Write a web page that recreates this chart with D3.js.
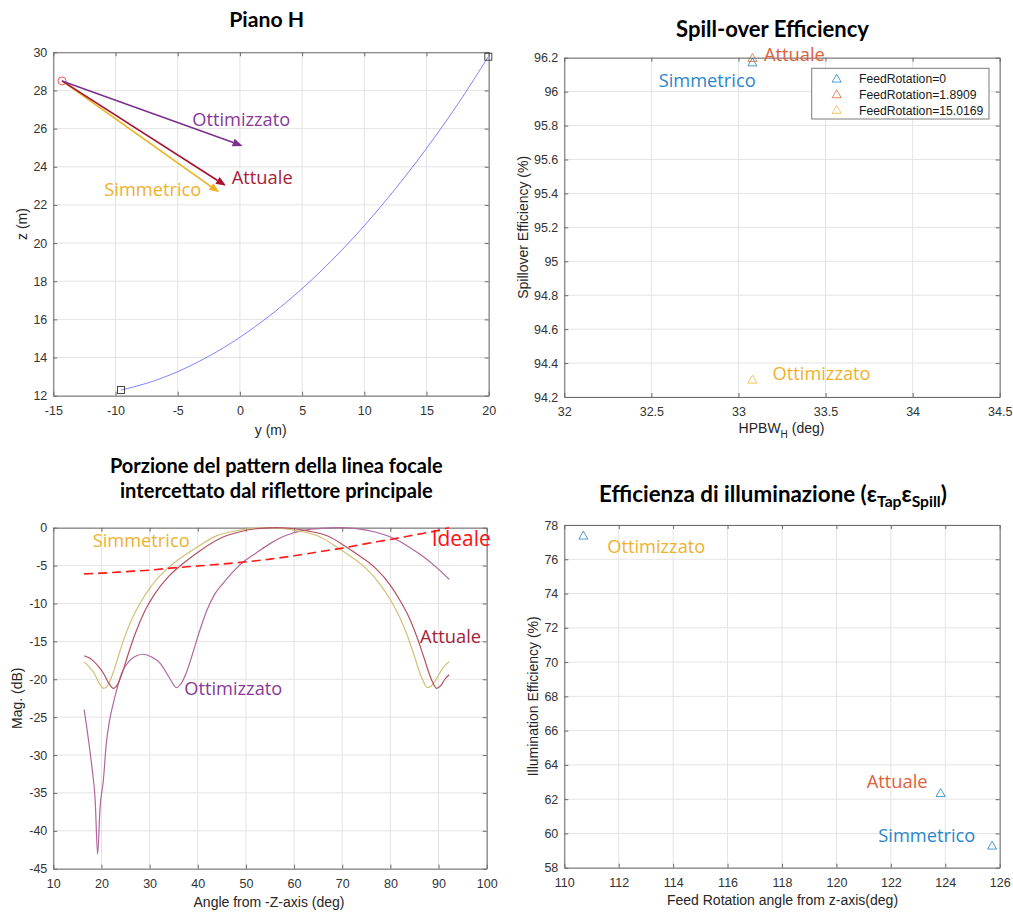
<!DOCTYPE html>
<html>
<head>
<meta charset="utf-8">
<script src="https://cdn.jsdelivr.net/npm/d3@7"></script>
<style>
  body { margin: 0; background: #fff; }
  svg { display: block; }
</style>
</head>
<body>
<svg id="fig" width="1013" height="914"></svg>
<script>
// ---------- Piano H: reflector profile, feed position and pointing arrows ----------
const reflectorY = [-9.56, -7.5, -5, -2.5, 0, 2.5, 5, 7.5, 10, 12.5, 15, 17.5, 19.97];
const reflectorZ = [12.30, 12.65, 13.26, 14.07, 15.06, 16.25, 17.61, 19.17, 20.91, 22.85, 24.96, 27.27, 29.77];
const rimY = [-9.56, 19.97];
const rimZ = [12.30, 29.77];
const focusY = -14.3;
const focusZ = 28.5;
const arrowNames = ["Ottimizzato", "Attuale", "Simmetrico"];
const arrowTipY = [0.22, -1.12, -1.66];
const arrowTipZ = [25.09, 23.0, 22.66];

// ---------- Spill-over efficiency vs HPBW ----------
const caseNames = ["Simmetrico", "Attuale", "Ottimizzato"];
const feedRotation = [0, 1.8909, 15.0169];
const hpbwH = [33.08, 33.08, 33.08];
const spillEff = [96.17, 96.196, 94.30];

// ---------- Feed pattern portion intercepted by the main reflector ----------
const angSimmetrico = [16.4, 17.5, 18.5, 19.5, 20.5, 21.5, 22.5, 23.5, 24.5, 26, 28, 30, 33, 36, 40, 44, 48, 52, 54.3,
  57, 61, 65, 69, 72, 75, 78, 80, 82, 83.5, 85, 86.5, 87.7, 88.5, 89.5, 90.5, 91.3, 92.2];
const magSimmetrico = [-17.7, -18.4, -19.2, -20.5, -21.2, -20.6, -19.0, -17.0, -15.0, -12.5, -10.0, -8.0, -5.8, -4.2, -2.5, -1.05, -0.4, -0.05, 0,
  -0.07, -0.45, -1.1, -2.6, -3.9, -5.4, -7.6, -9.5, -11.9, -14.2, -17.0, -19.8, -21.1, -20.9, -20.0, -18.9, -18.2, -17.7];

const angAttuale = [16.4, 17.5, 18.5, 19.5, 20.5, 21.5, 22.5, 23.5, 24.5, 25.5, 27, 29, 31, 34, 37, 41, 45, 49, 53, 56.2,
  59, 63, 67, 71, 74, 77, 80, 82, 84, 85.5, 87, 88.5, 89.6, 90.5, 91.3, 92.2];
const magAttuale = [-16.9, -17.2, -17.7, -18.4, -19.3, -20.5, -21.2, -20.5, -18.8, -16.8, -14.0, -11.0, -8.8, -6.4, -4.7, -2.8, -1.3, -0.5, -0.08, 0,
  -0.07, -0.45, -1.1, -2.6, -3.9, -5.4, -7.6, -9.6, -12.0, -14.4, -17.2, -20.0, -21.2, -20.8, -20.0, -19.4];

const angOttimizzato = [16.4, 17.2, 18.0, 18.7, 19.2, 19.7, 20.4, 21.0, 21.7, 22.8, 24.2, 25.9, 27.3, 28.7, 30.5, 32.2, 34.2, 35.6,
  36.6, 37.7, 38.8, 39.8, 41.9, 43.5, 45.3, 47.5, 49.5, 52, 55, 58, 61.9, 65.5, 69.5, 73, 77, 81.3, 84, 86.8, 89.5, 92.2];
const magOttimizzato = [-24.0, -27.5, -31.5, -36.0, -43.1, -37.0, -33.3, -28.5, -25.4, -22.3, -19.2, -17.5, -16.9, -16.7, -17.1, -17.9, -19.9, -21.1,
  -20.5, -19.0, -16.9, -14.8, -10.9, -8.8, -7.3, -5.7, -4.5, -3.4, -2.1, -1.1, -0.35, -0.08, 0, -0.12, -0.6, -1.6, -2.6, -3.8, -5.2, -6.8];

const angIdeale = [16.4, 20, 25, 30, 35, 40, 45, 50, 55, 60, 65, 70, 75, 80, 85, 90, 92.2];
const magIdeale = [-6.1, -6.0, -5.8, -5.6, -5.3, -5.05, -4.8, -4.5, -4.15, -3.7, -3.2, -2.7, -2.1, -1.55, -0.95, -0.35, 0];

// ---------- Illumination efficiency vs feed rotation angle ----------
const feedAngle = [125.72, 123.83, 110.70];
const illumEff = [59.27, 62.34, 77.36];

// ---------- tick values ----------
const ticksPianoY = [-15, -10, -5, 0, 5, 10, 15, 20];
const ticksPianoZ = [12, 14, 16, 18, 20, 22, 24, 26, 28, 30];
const ticksHpbw = [32, 32.5, 33, 33.5, 34, 34.5];
const ticksSpill = [94.2, 94.4, 94.6, 94.8, 95, 95.2, 95.4, 95.6, 95.8, 96, 96.2];
const ticksAngle = [10, 20, 30, 40, 50, 60, 70, 80, 90, 100];
const ticksMag = [0, -5, -10, -15, -20, -25, -30, -35, -40, -45];
const ticksFeed = [110, 112, 114, 116, 118, 120, 122, 124, 126];
const ticksIllum = [58, 60, 62, 64, 66, 68, 70, 72, 74, 76, 78];

// ---------- colours ----------
const C_BLUE = "#0072BD", C_ORANGE = "#D95319", C_YELLOW = "#EDB120",
      C_PURPLE = "#7E2F8E", C_DARKRED = "#A2142F";

const FONT_AX = '"Liberation Sans", Arial, Helvetica, sans-serif';
const FONT_ANN = '"Open Sans", "Noto Sans", sans-serif';
const FONT_TITLE = 'Lato, "Open Sans", sans-serif';

const svg = d3.select("#fig");
const num = d => String(+(+d).toFixed(2));

// Draw a boxed axes with grid, inward ticks on all four sides and labels on left/bottom.
function makeAxes(box, xDomain, yDomain, xTicks, yTicks) {
  const x = d3.scaleLinear().domain(xDomain).range([box.x0, box.x1]);
  const y = d3.scaleLinear().domain(yDomain).range([box.y1, box.y0]);
  const g = svg.append("g");

  const grid = g.append("g").attr("stroke", "#e4e4e4").attr("stroke-width", 1);
  grid.selectAll(".gx").data(xTicks).join("line")
    .attr("x1", d => x(d)).attr("x2", d => x(d)).attr("y1", box.y0).attr("y2", box.y1);
  grid.selectAll(".gy").data(yTicks).join("line")
    .attr("y1", d => y(d)).attr("y2", d => y(d)).attr("x1", box.x0).attr("x2", box.x1);

  const axCol = "#6a6a6a";
  const styleAxis = sel => {
    sel.selectAll("path.domain").attr("stroke", axCol);
    sel.selectAll(".tick line").attr("stroke", axCol);
    sel.selectAll("text").attr("fill", "#333").style("font-family", FONT_AX).style("font-size", "12.5px");
  };
  g.append("g").attr("transform", `translate(0,${box.y1})`)
    .call(d3.axisBottom(x).tickValues(xTicks).tickFormat(num).tickSizeInner(-4).tickSizeOuter(0).tickPadding(10))
    .call(styleAxis);
  g.append("g").attr("transform", `translate(0,${box.y0})`)
    .call(d3.axisTop(x).tickValues(xTicks).tickFormat("").tickSizeInner(-4).tickSizeOuter(0))
    .call(styleAxis);
  g.append("g").attr("transform", `translate(${box.x0},0)`)
    .call(d3.axisLeft(y).tickValues(yTicks).tickFormat(num).tickSizeInner(-4).tickSizeOuter(0).tickPadding(6))
    .call(styleAxis);
  g.append("g").attr("transform", `translate(${box.x1},0)`)
    .call(d3.axisRight(y).tickValues(yTicks).tickFormat("").tickSizeInner(-4).tickSizeOuter(0))
    .call(styleAxis);
  g.selectAll(".domain").attr("stroke-width", 1);
  return { x, y, g };
}

function title(lines, cx, baselines, targetWidths) {
  lines.forEach((ln, i) => {
    const t = svg.append("text").attr("x", cx).attr("y", baselines[i])
      .attr("text-anchor", "middle").style("font-family", FONT_TITLE)
      .style("font-weight", "700").style("font-size", "20px").attr("fill", "#000");
    ln(t);
    fit(t, targetWidths[i], 20);
  });
}

function fit(t, target, base) {
  const w = t.node().getComputedTextLength();
  if (w > 0) t.style("font-size", (base * target / w).toFixed(2) + "px");
}

function axisLabel(txt, x, y, rotate) {
  const t = svg.append("text").attr("text-anchor", "middle")
    .style("font-family", FONT_AX).style("font-size", "14px").attr("fill", "#262626");
  if (rotate) t.attr("transform", `translate(${x},${y}) rotate(-90)`);
  else t.attr("x", x).attr("y", y);
  if (typeof txt === "function") txt(t); else t.text(txt);
  return t;
}

function note(ax, txt, xv, yv, color, size, width) {
  const t = svg.append("text").attr("x", ax.x(xv)).attr("y", ax.y(yv))
    .style("font-family", FONT_ANN).style("font-size", size + "px").attr("fill", color).text(txt);
  if (width) fit(t, width, size);
  return t;
}

const triPath = "M0,-4.8 L4.5,3.1 L-4.5,3.1 Z";

// ================= Panel 1: Piano H =================
{
  const ax = makeAxes({ x0: 53.3, x1: 488.7, y0: 52.3, y1: 395.7 }, [-15, 20], [12, 30], ticksPianoY, ticksPianoZ);
  const pts = reflectorY.map((v, i) => [v, reflectorZ[i]]);
  ax.g.append("path").datum(pts)
    .attr("d", d3.line().x(d => ax.x(d[0])).y(d => ax.y(d[1])).curve(d3.curveMonotoneX))
    .attr("fill", "none").attr("stroke", "#5a5aff").attr("stroke-width", 0.9).attr("opacity", 0.85);
  ax.g.selectAll(".rim").data(rimY).join("rect")
    .attr("x", (d, i) => ax.x(d) - 3.5).attr("y", (d, i) => ax.y(rimZ[i]) - 3.5)
    .attr("width", 7).attr("height", 7).attr("fill", "none").attr("stroke", "#333").attr("stroke-width", 0.9);
  ax.g.append("circle").attr("cx", ax.x(focusY)).attr("cy", ax.y(focusZ)).attr("r", 4)
    .attr("fill", "none").attr("stroke", "#ff4040").attr("stroke-width", 0.9);

  const arrowCols = [C_PURPLE, C_DARKRED, C_YELLOW];
  // draw back-to-front so the yellow arrow sits under the others
  [2, 1, 0].forEach(i => {
    const x0 = ax.x(focusY), y0 = ax.y(focusZ);
    const x1 = ax.x(arrowTipY[i]), y1 = ax.y(arrowTipZ[i]);
    const L = Math.hypot(x1 - x0, y1 - y0), ux = (x1 - x0) / L, uy = (y1 - y0) / L;
    const hl = 10, hw = 4;
    const bx = x1 - ux * hl, by = y1 - uy * hl;
    ax.g.append("line").attr("x1", x0).attr("y1", y0).attr("x2", bx).attr("y2", by)
      .attr("stroke", arrowCols[i]).attr("stroke-width", 1.6);
    ax.g.append("path")
      .attr("d", `M${x1},${y1} L${bx - uy * hw},${by + ux * hw} L${bx + uy * hw},${by - ux * hw} Z`)
      .attr("fill", arrowCols[i]);
  });
  note(ax, "Ottimizzato", -3.83, 26.14, "#8a3898", 18.5, 98);
  note(ax, "Attuale", -0.66, 23.10, "#a8213a", 18.5, 61);
  note(ax, "Simmetrico", -10.90, 22.47, "#eeb12e", 18.5, 97);

  title([t => t.text("Piano H")], 266.7, [27.3], [75]);
  axisLabel("y (m)", 270.7, 435);
  axisLabel("z (m)", 27, 224, true);
}

// ================= Panel 2: Spill-over Efficiency =================
{
  const ax = makeAxes({ x0: 564.3, x1: 999.7, y0: 57.7, y1: 397 }, [32, 34.5], [94.2, 96.2], ticksHpbw, ticksSpill);
  const cols = [C_BLUE, C_ORANGE, C_YELLOW];
  ax.g.selectAll(".pt").data(caseNames).join("path")
    .attr("d", triPath)
    .attr("transform", (d, i) => `translate(${ax.x(hpbwH[i])},${ax.y(spillEff[i])})`)
    .attr("fill", "none").attr("stroke", (d, i) => cols[i]).attr("stroke-width", 1).attr("opacity", 0.7);

  // legend
  const lg = svg.append("g");
  lg.append("rect").attr("x", 811.7).attr("y", 68.3).attr("width", 177.3).attr("height", 50.7)
    .attr("fill", "#fff").attr("stroke", "#7a7a7a").attr("stroke-width", 1);
  feedRotation.forEach((fr, i) => {
    const yy = 79 + i * 15.6;
    lg.append("path").attr("d", triPath).attr("transform", `translate(836.7,${yy})`)
      .attr("fill", "none").attr("stroke", cols[i]).attr("stroke-width", 1).attr("opacity", 0.7);
    lg.append("text").attr("x", 859).attr("y", yy + 4.3)
      .style("font-family", FONT_AX).style("font-size", "12.2px").attr("fill", "#1a1a1a")
      .text("FeedRotation=" + fr);
  });

  note(ax, "Attuale", 33.146, 96.182, "#e0613a", 18.5, 61);
  note(ax, "Simmetrico", 32.542, 96.029, "#2a86cc", 18.5, 97);
  note(ax, "Ottimizzato", 33.196, 94.300, "#eeb12e", 18.5, 98);

  title([t => t.text("Spill-over Efficiency")], 772.5, [37], [193]);
  axisLabel(t => {
    t.append("tspan").text("HPBW");
    t.append("tspan").attr("dy", 5).style("font-size", "10px").text("H");
    t.append("tspan").attr("dy", -5).text(" (deg)");
  }, 781.5, 433);
  axisLabel("Spillover Efficiency (%)", 527.5, 227.3, true);
}

// ================= Panel 3: pattern =================
{
  const ax = makeAxes({ x0: 53.3, x1: 486.7, y0: 527.7, y1: 868.7 }, [10, 100], [-45, 0], ticksAngle, ticksMag);
  const line = d3.line().x(d => ax.x(d[0])).y(d => ax.y(d[1])).curve(d3.curveMonotoneX);
  const series = [
    { a: angOttimizzato, m: magOttimizzato, c: "#b0679e" },
    { a: angSimmetrico, m: magSimmetrico, c: "#d2bf76" },
    { a: angAttuale, m: magAttuale, c: "#b3525f" }
  ];
  series.forEach(s => {
    ax.g.append("path").datum(s.a.map((v, i) => [v, s.m[i]]))
      .attr("d", line).attr("fill", "none").attr("stroke", s.c).attr("stroke-width", 1.2);
  });
  ax.g.append("path").datum(angIdeale.map((v, i) => [v, magIdeale[i]]))
    .attr("d", line).attr("fill", "none").attr("stroke", "#ff1a1a")
    .attr("stroke-width", 1.6).attr("stroke-dasharray", "9,5");

  note(ax, "Simmetrico", 18.18, -2.56, "#eeb12e", 18.5, 97);
  note(ax, "Ideale", 88.59, -2.47, "#ff1010", 21, 59);
  note(ax, "Attuale", 86.16, -15.25, "#a8213a", 18.5, 61);
  note(ax, "Ottimizzato", 37.2, -22.08, "#8a3898", 18.5, 98);

  title([t => t.text("Porzione del pattern della linea focale"),
         t => t.text("intercettato dal riflettore principale")],
        276.3, [472.7, 498.3], [332.7, 312.7]);
  axisLabel("Angle from -Z-axis (deg)", 269, 907);
  axisLabel("Mag. (dB)", 22, 698.2, true);
}

// ================= Panel 4: illumination efficiency =================
{
  const ax = makeAxes({ x0: 564.3, x1: 999.7, y0: 525, y1: 867.7 }, [110, 126], [58, 78], ticksFeed, ticksIllum);
  ax.g.selectAll(".pt").data(caseNames).join("path")
    .attr("d", triPath)
    .attr("transform", (d, i) => `translate(${ax.x(feedAngle[i])},${ax.y(illumEff[i])})`)
    .attr("fill", "none").attr("stroke", C_BLUE).attr("stroke-width", 1).attr("opacity", 0.7);

  note(ax, "Ottimizzato", 111.58, 76.35, "#eeb12e", 18.5, 98);
  note(ax, "Attuale", 121.11, 62.63, "#e0613a", 18.5, 61);
  note(ax, "Simmetrico", 121.54, 59.48, "#2a86cc", 18.5, 97);

  title([t => {
    t.append("tspan").text("Efficienza di illuminazione (ε");
    t.append("tspan").attr("dy", 5).style("font-size", "0.7em").text("Tap");
    t.append("tspan").attr("dy", -5).text("ε");
    t.append("tspan").attr("dy", 5).style("font-size", "0.7em").text("Spill");
    t.append("tspan").attr("dy", -5).text(")");
  }], 773, [501.7], [348]);
  axisLabel("Feed Rotation angle from z-axis(deg)", 782.5, 905);
  axisLabel("Illumination Efficiency (%)", 538, 696.3, true);
}
</script>
</body>
</html>
